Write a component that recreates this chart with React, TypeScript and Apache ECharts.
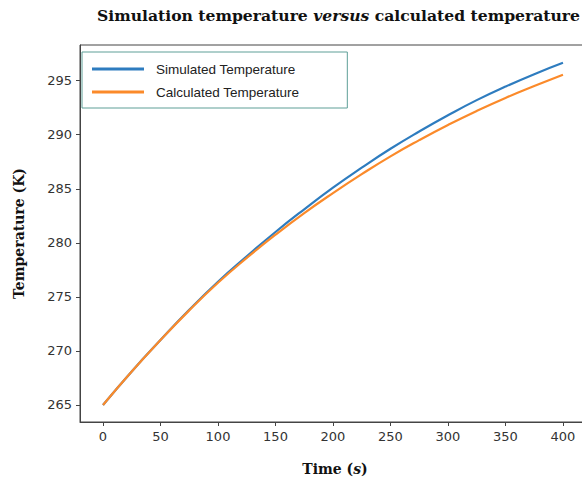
import React, { useEffect, useRef } from "react";
import * as echarts from "echarts";

const times = [0, 25, 50, 75, 100, 125, 150, 175, 200, 225, 250, 275, 300, 325, 350, 375, 400];
const simulated = [265.0, 268.1, 271.0, 273.8, 276.4, 278.75, 281.0, 283.1, 285.1, 286.95, 288.7, 290.3, 291.8, 293.2, 294.45, 295.6, 296.65];
const calculated = [265.0, 268.1, 271.0, 273.75, 276.3, 278.6, 280.75, 282.75, 284.6, 286.35, 288.0, 289.5, 290.9, 292.2, 293.4, 294.5, 295.55];
const xTicks = [0, 50, 100, 150, 200, 250, 300, 350, 400];
const yTicks = [265, 270, 275, 280, 285, 290, 295];

export default function App() {
  const ref = useRef<HTMLDivElement>(null);
  useEffect(() => {
    document.body.style.margin = "0";
    const chart = echarts.init(ref.current!, null, { renderer: "svg" });
    const serif = "'DejaVu Serif', 'Liberation Serif', serif";
    chart.setOption({
      animation: false,
      backgroundColor: "#ffffff",
      title: {
        left: 92,
        top: 2,
        text: "{b|Simulation temperature }{i|versus}{b| calculated temperature}",
        textStyle: {
          rich: {
            b: { fontFamily: serif, fontWeight: "bold", fontSize: 15.6, color: "#111" },
            i: { fontFamily: serif, fontWeight: "bold", fontStyle: "italic", fontSize: 15.6, color: "#111" },
          },
        },
      },
      legend: {
        left: 82,
        top: 52,
        orient: "vertical",
        backgroundColor: "#ffffff",
        borderColor: "#5e9f97",
        borderWidth: 1,
        borderRadius: 0,
        padding: [10, 48, 9, 10],
        itemGap: 9,
        itemWidth: 52,
        itemHeight: 3,
        icon: "rect",
        textStyle: { fontFamily: "'Liberation Sans', Arial, sans-serif", fontSize: 13.5, color: "#222", padding: [0, 0, 0, 7] },
        data: ["Simulated Temperature", "Calculated Temperature"],
      },
      grid: {
        left: 80,
        top: 45,
        right: -8,
        bottom: 58,
        show: true,
        borderColor: "#444",
        borderWidth: 1,
        containLabel: false,
        outerBoundsMode: "none",
      },
      xAxis: {
        type: "value",
        min: -20,
        max: 423.5,
        name: "{b|Time (}{i|s}{b|)}",
        nameLocation: "middle",
        nameGap: 40,
        nameTextStyle: {
          rich: {
            b: { fontFamily: serif, fontWeight: "bold", fontSize: 14, color: "#111" },
            i: { fontFamily: serif, fontWeight: "bold", fontStyle: "italic", fontSize: 14, color: "#111" },
          },
        },
        splitLine: { show: false },
        axisLine: { show: true, onZero: false, lineStyle: { color: "#444" } },
        axisTick: { show: true, length: 4, customValues: xTicks, lineStyle: { color: "#444" } },
        axisLabel: { customValues: xTicks, fontFamily: "'DejaVu Sans', sans-serif", fontSize: 13, color: "#333", margin: 8 },
      },
      yAxis: {
        type: "value",
        min: 263.42,
        max: 298.3,
        name: "Temperature (K)",
        nameLocation: "middle",
        nameGap: 54,
        nameTextStyle: { fontFamily: serif, fontWeight: "bold", fontSize: 14, color: "#111" },
        splitLine: { show: false },
        axisLine: { show: true, onZero: false, lineStyle: { color: "#444" } },
        axisTick: { show: true, length: 4, customValues: yTicks, lineStyle: { color: "#444" } },
        axisLabel: { customValues: yTicks, fontFamily: "'DejaVu Sans', sans-serif", fontSize: 13, color: "#333", margin: 8 },
      },
      series: [
        {
          name: "Simulated Temperature",
          type: "line",
          data: times.map((t, i) => [t, simulated[i]]),
          smooth: true,
          symbol: "none",
          lineStyle: { color: "#2e7cbf", width: 2.2 },
          itemStyle: { color: "#2e7cbf" },
        },
        {
          name: "Calculated Temperature",
          type: "line",
          data: times.map((t, i) => [t, calculated[i]]),
          smooth: true,
          symbol: "none",
          lineStyle: { color: "#fb8a2a", width: 2.2 },
          itemStyle: { color: "#fb8a2a" },
        },
      ],
    });
    return () => chart.dispose();
  }, []);
  return <div ref={ref} style={{ width: 582, height: 480 }} />;
}
